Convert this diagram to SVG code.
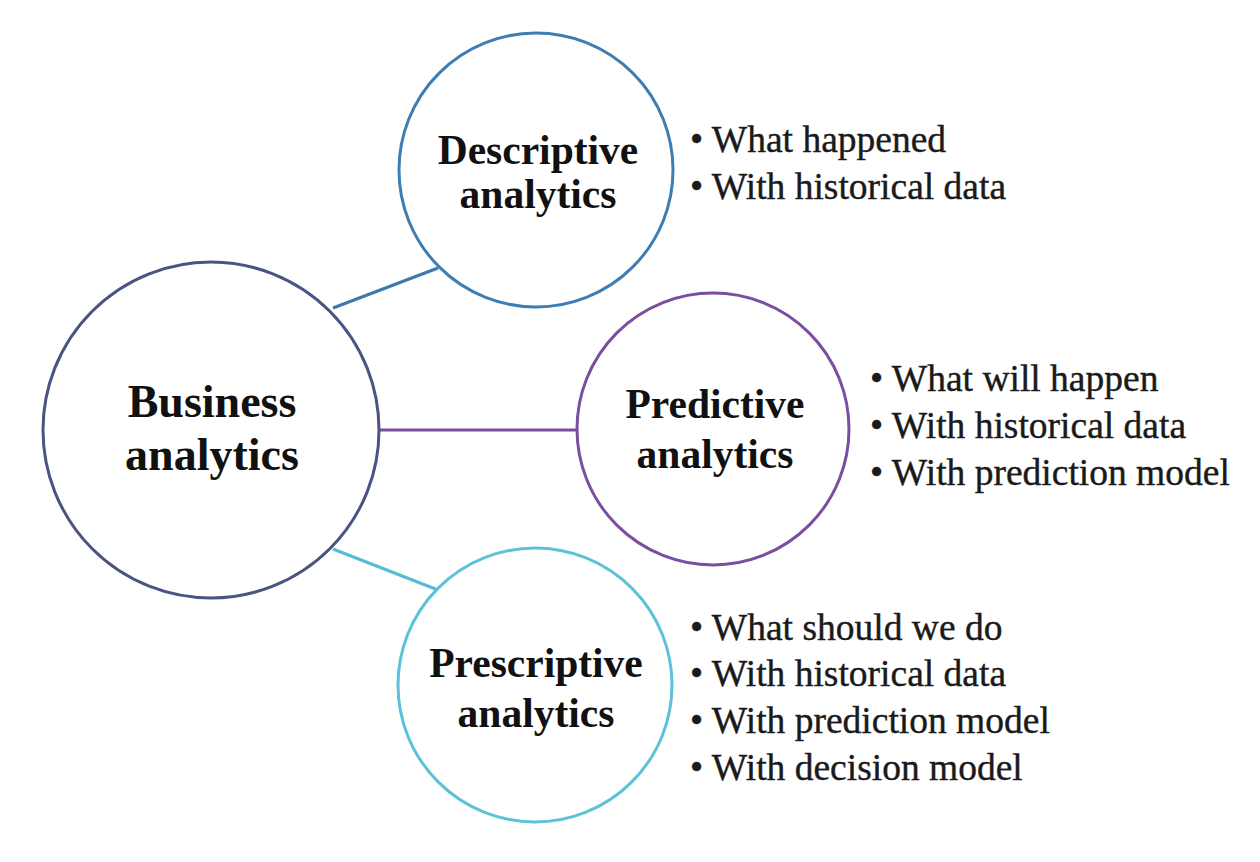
<svg xmlns="http://www.w3.org/2000/svg" width="1260" height="862" viewBox="0 0 1260 862">
<style>
.node{fill:#ffffff;stroke-width:3}
.title{font-family:"Liberation Serif","Times New Roman",serif;font-weight:bold;text-anchor:middle;fill:#111}
.bul{font-family:"Liberation Serif","Times New Roman",serif;font-size:37.5px;fill:#1a1a1a;stroke:#1a1a1a;stroke-width:0.4}
.conn{stroke-width:3;fill:none}
</style>
<rect width="1260" height="862" fill="#ffffff"/>
<g id="connectors">
<line class="conn" x1="333" y1="308" x2="438" y2="268" stroke="#3e78ad"/>
<line class="conn" x1="380" y1="430" x2="578" y2="430" stroke="#7b4fa0"/>
<line class="conn" x1="333" y1="549" x2="438" y2="590" stroke="#55bcd4"/>
</g>
<g id="business">
<circle class="node" cx="211" cy="430" r="168" stroke="#4a5483"/>
<text class="title" font-size="46" x="212" y="417">Business</text>
<text class="title" font-size="46" x="212" y="470">analytics</text>
</g>
<g id="descriptive">
<circle class="node" cx="536" cy="170" r="137" stroke="#3e7db3"/>
<text class="title" font-size="41.5" x="538" y="164">Descriptive</text>
<text class="title" font-size="41.5" x="538" y="208">analytics</text>
</g>
<g id="predictive">
<circle class="node" cx="713" cy="429" r="136" stroke="#7a4ea2"/>
<text class="title" font-size="41.5" x="715" y="418">Predictive</text>
<text class="title" font-size="41.5" x="715" y="468">analytics</text>
</g>
<g id="prescriptive">
<circle class="node" cx="535" cy="685" r="137" stroke="#5cc2da"/>
<text class="title" font-size="41.5" x="536" y="677">Prescriptive</text>
<text class="title" font-size="41.5" x="536" y="727">analytics</text>
</g>
<g id="descriptive-notes">
<text class="bul" x="690" y="152">• What happened</text>
<text class="bul" x="690" y="199">• With historical data</text>
</g>
<g id="predictive-notes">
<text class="bul" x="870" y="391">• What will happen</text>
<text class="bul" x="870" y="438">• With historical data</text>
<text class="bul" x="870" y="485">• With prediction model</text>
</g>
<g id="prescriptive-notes">
<text class="bul" x="690" y="640">• What should we do</text>
<text class="bul" x="690" y="686">• With historical data</text>
<text class="bul" x="690" y="733">• With prediction model</text>
<text class="bul" x="690" y="780">• With decision model</text>
</g>
</svg>
